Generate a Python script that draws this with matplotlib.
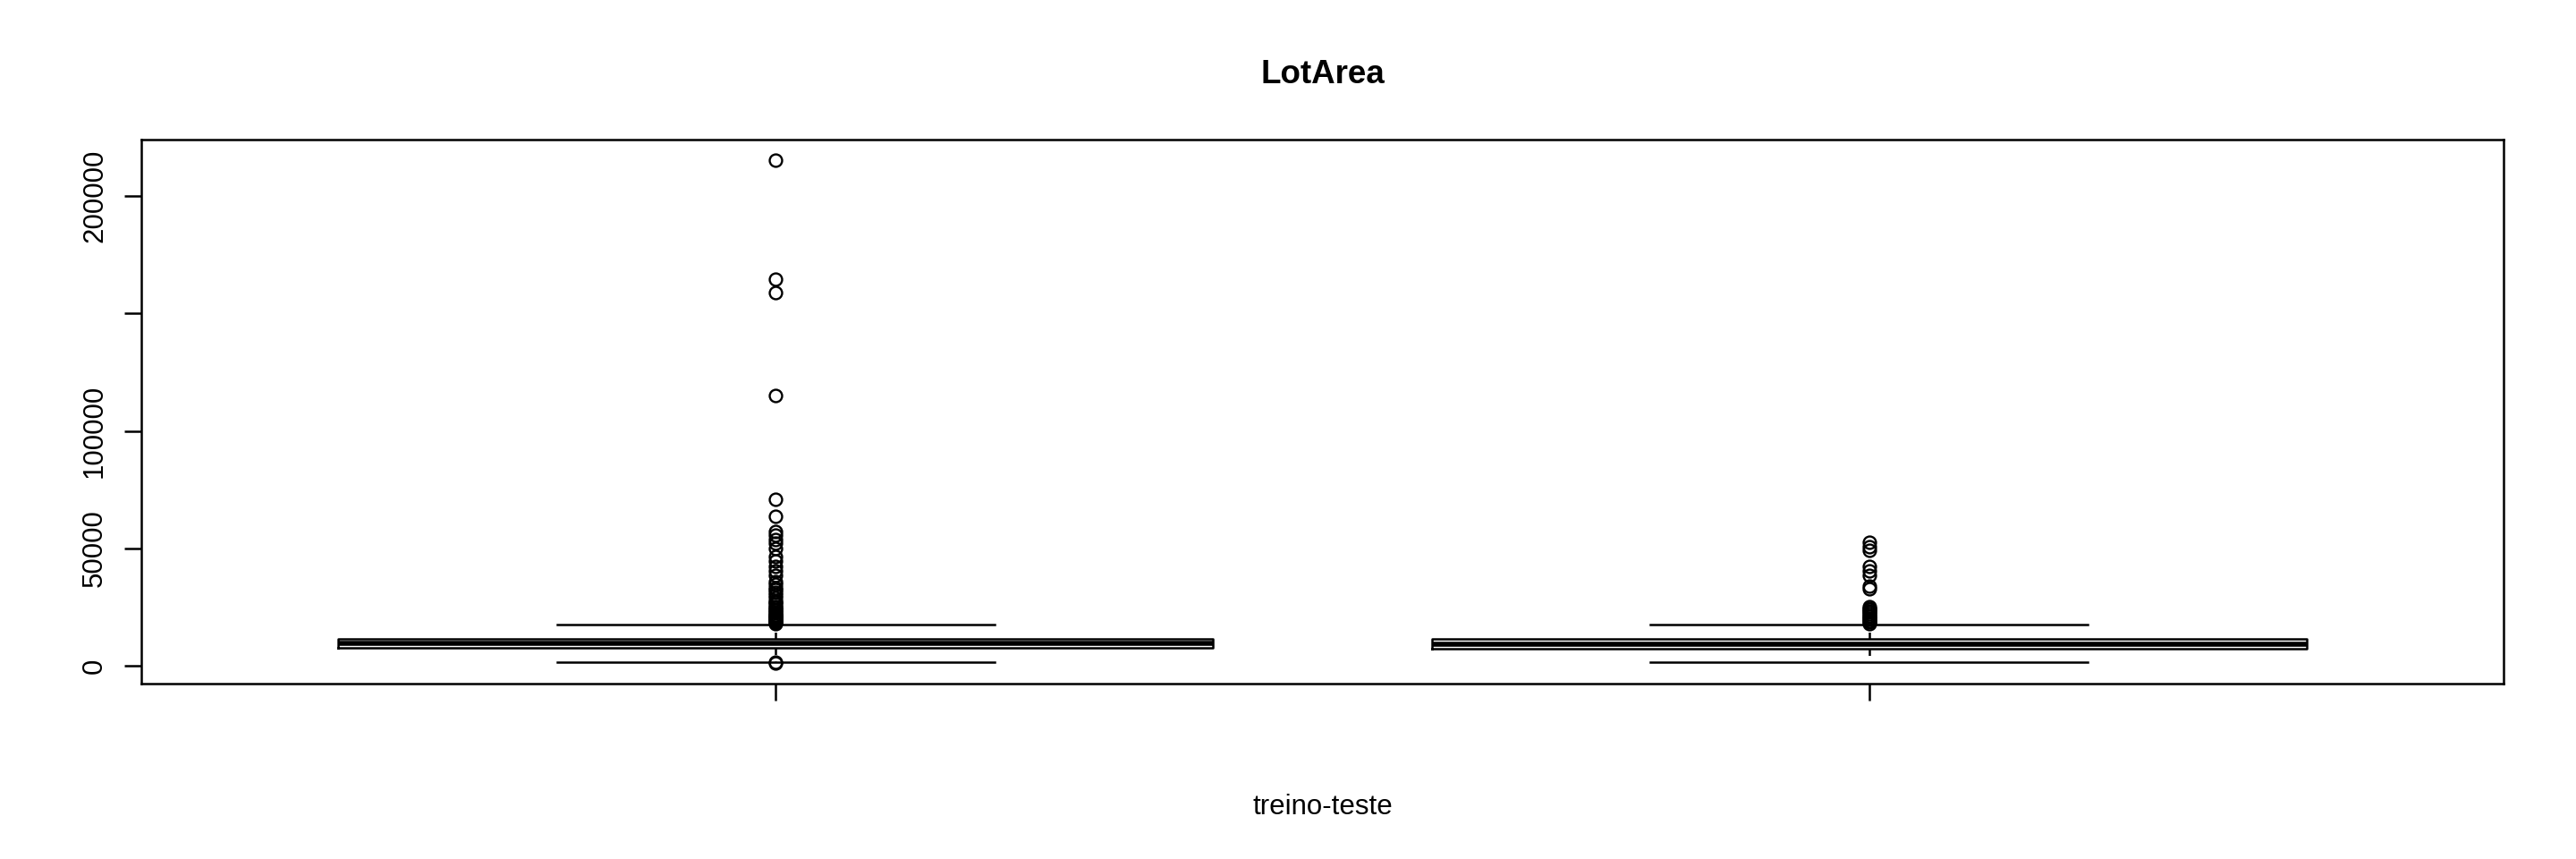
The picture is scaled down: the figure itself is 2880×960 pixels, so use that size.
import matplotlib
matplotlib.use("Agg")
import matplotlib.pyplot as plt

plt.rcParams['font.family'] = ['Liberation Sans', 'DejaVu Sans']

# ---- data ----
groups = ["treino", "teste"]
q1 = [7553, 7391]
median = [9478, 9399]
q3 = [11601, 11517]
whisker_low = [1491, 1470]
whisker_high = [17671, 17600]
outliers_treino = [1300, 1477,
                   215245, 164660, 159000, 115149, 70761, 63887, 57200, 55600,
                   53700, 52400, 49900, 46700, 44800, 42300, 40400, 38500,
                   35900, 34600, 33400, 32500, 31500, 30200, 28900, 27600,
                   27000, 26200, 25400, 24700, 24100, 23600, 23000, 22400,
                   22000, 21600, 21300, 21000, 20600, 20300, 19900, 19500,
                   19200, 18800, 18400, 18000]
outliers_teste = [52650, 50900, 49200, 42250, 40350, 38550, 34000, 32750,
                  25300, 24600, 24000, 23400, 22800, 22200, 21600, 21000,
                  20400, 19800, 19200, 18600, 18000]
yticks = [0, 50000, 100000, 150000, 200000]
ytick_labels = ["0", "50000", "100000", "", "200000"]
title = "LotArea"
xlabel = "treino-teste"

fig = plt.figure(figsize=(28.8, 9.6), dpi=100)
W, H = 2880, 960
left, right, top, bottom = 158, 2799, 156, 764
ax = fig.add_axes([left / W, 1 - bottom / H, (right - left) / W, (bottom - top) / H])

stats = []
fl = [outliers_treino, outliers_teste]
for i, g in enumerate(groups):
    stats.append(dict(label=g, med=median[i], q1=q1[i], q3=q3[i],
                      whislo=whisker_low[i], whishi=whisker_high[i], fliers=fl[i]))

lw = 1.8
ax.bxp(stats, positions=[1, 2], widths=0.8, capwidths=0.4, patch_artist=False,
       boxprops=dict(color='black', linewidth=lw),
       medianprops=dict(color='black', linewidth=4.0, solid_capstyle='butt'),
       whiskerprops=dict(color='black', linewidth=lw, linestyle=(0, (3, 3))),
       capprops=dict(color='black', linewidth=lw),
       flierprops=dict(marker='o', markerfacecolor='none', markeredgecolor='black',
                       markersize=10, markeredgewidth=1.7, linestyle='none'))

ax.set_xlim(0.42, 2.58)
ax.set_ylim(-7502, 224030)

ax.set_xticks([1, 2])
ax.set_xticklabels(["", ""])
ax.set_yticks(yticks)
ax.set_yticklabels(ytick_labels, rotation=90, va='center', fontsize=22.5)
ax.tick_params(axis='both', direction='out', length=13.7, width=lw, color='black')
ax.tick_params(axis='y', pad=13)
for s in ax.spines.values():
    s.set_linewidth(lw)
    s.set_color('black')

cx = (left + right) / 2 / W
fig.text(cx, 1 - 93 / H, title, ha='center', va='baseline', fontsize=26.5, fontweight='bold')
fig.text(cx, 1 - 910 / H, xlabel, ha='center', va='baseline', fontsize=22.5)

fig.savefig("out.png", dpi=100, facecolor='white')
